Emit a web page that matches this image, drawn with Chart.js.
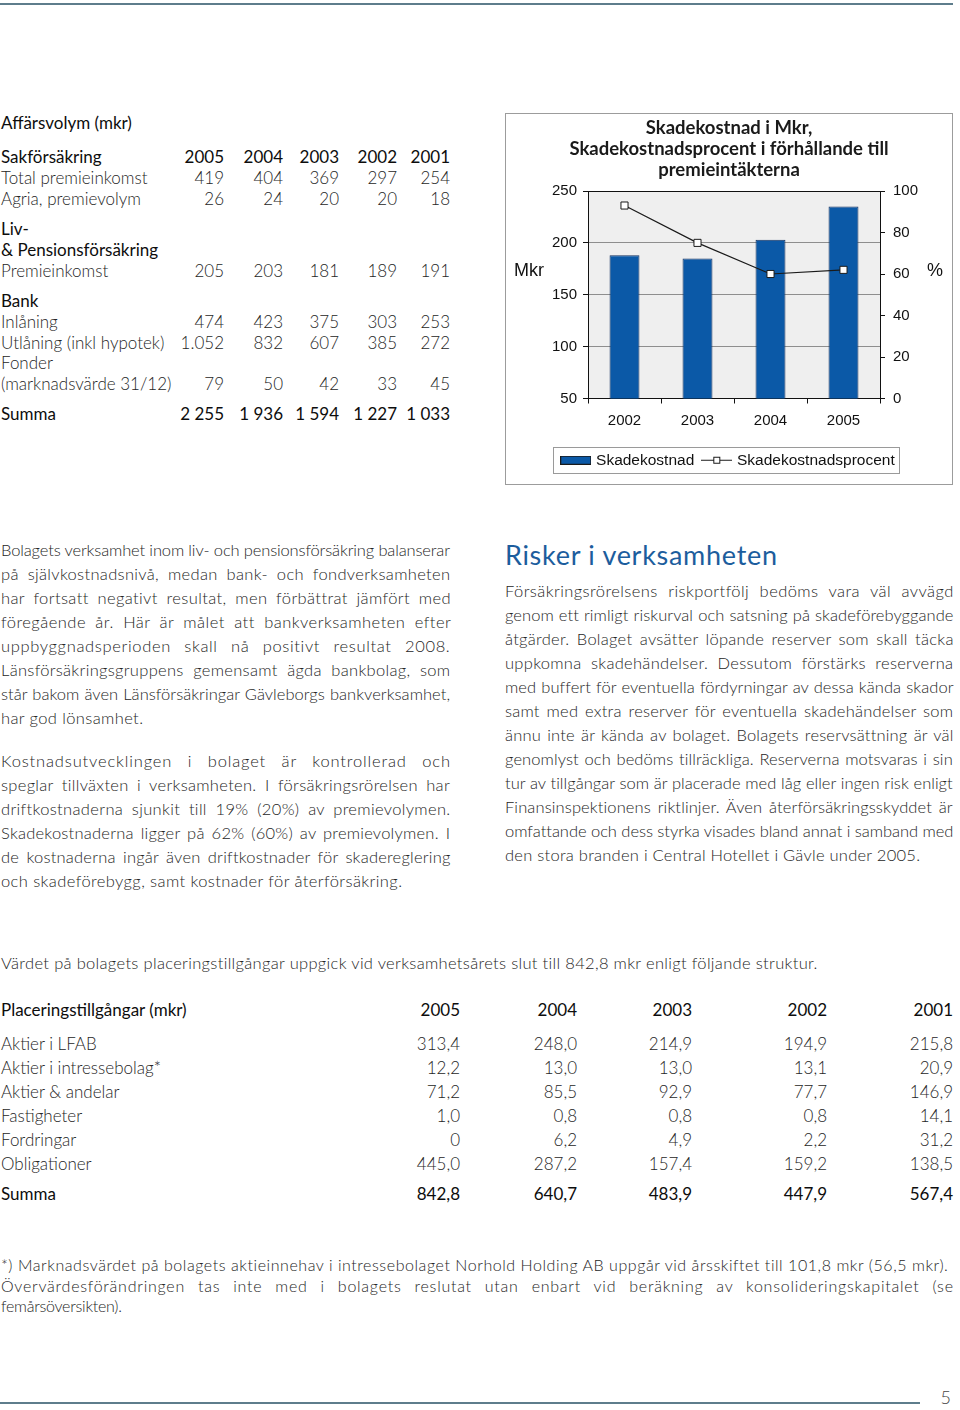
<!DOCTYPE html>
<html lang="sv">
<head>
<meta charset="utf-8">
<title>Skadekostnad i Mkr</title>
<script src="https://cdn.jsdelivr.net/npm/chart.js@4.4.0/dist/chart.umd.min.js"></script>
<style>
  html, body { margin:0; padding:0; background:#fff; }
  #page { position:relative; width:960px; height:1410px; overflow:hidden;
          font-family:Lato, "Open Sans", sans-serif; font-weight:300; color:#262626; }
  .c { position:absolute; white-space:nowrap; line-height:20px; font-size:17px; }
  .hd { color:#0d0d0d; font-weight:400; }
  .ln { position:absolute; white-space:nowrap; font-size:16.5px; line-height:24px; }
  .rule { position:absolute; height:2px; background:#5e7d8c; }
  #chartBox { position:absolute; left:505px; top:113px; width:448px; height:372px;
              border:1px solid #9c9c9c; box-sizing:border-box; }
  #chartBox canvas { display:block; }
  #risk { position:absolute; font-size:27px; line-height:32px; color:#1c5d9d; font-weight:400; white-space:nowrap; }
</style>
</head>
<body>
<div id="page">
  <div class="rule" style="left:0; top:3px; width:953px;"></div>
  <div class="rule" style="left:0; top:1402px; width:920px;"></div>
  <div class="c" style="right:9px; top:1387px; font-size:18px; color:#444;">5</div>

  <div id="chartBox"><canvas id="chart" width="446" height="370"></canvas></div>
  <div id="risk" data-w="272" style="left:505px; top:539px;">Risker i verksamheten</div>
</div>

<script>
// Chart data
const years = ['2002', '2003', '2004', '2005'];
const skadekostnad = [188, 185, 203, 235];        // Mkr
const skadeprocent = [93, 75, 60, 62];            // %
const mkrMin = 50, mkrMax = 250, mkrStep = 50;
const pctMin = 0, pctMax = 100, pctStep = 20;

const page = document.getElementById('page');

// place a text cell; align 'r' => x is the right edge
function cell(text, x, cy, cls, align){
  let d = document.createElement('div');
  d.className = 'c ' + (cls || '');
  d.textContent = text;
  d.style.top = (cy - 10) + 'px';
  if(align === 'r') d.style.right = (960 - x) + 'px';
  else d.style.left = x + 'px';
  page.appendChild(d);
  return d;
}

// Affärsvolym table
const t1Cols = [224, 283, 339, 397, 450];
const t1Rows = [
  ['Affärsvolym (mkr)', null, 123, 'hd'],
  ['Sakförsäkring', ['2005','2004','2003','2002','2001'], 157, 'hd'],
  ['Total premieinkomst', ['419','404','369','297','254'], 178, ''],
  ['Agria, premievolym', ['26','24','20','20','18'], 199, ''],
  ['Liv-', null, 229, 'hd'],
  ['& Pensionsförsäkring', null, 250, 'hd'],
  ['Premieinkomst', ['205','203','181','189','191'], 271, ''],
  ['Bank', null, 301, 'hd'],
  ['Inlåning', ['474','423','375','303','253'], 322, ''],
  ['Utlåning (inkl hypotek)', ['1.052','832','607','385','272'], 343, ''],
  ['Fonder', null, 363, ''],
  ['(marknadsvärde 31/12)', ['79','50','42','33','45'], 384, ''],
  ['Summa', ['2 255','1 936','1 594','1 227','1 033'], 414, 'hd']
];
t1Rows.forEach(r => {
  cell(r[0], 1, r[2], r[3]);
  if(r[1]) r[1].forEach((v, i) => cell(v, t1Cols[i], r[2], r[3], 'r'));
});

// Placeringstillgångar table
const t2Cols = [460, 577, 692, 827, 953];
const t2Rows = [
  ['Placeringstillgångar (mkr)', ['2005','2004','2003','2002','2001'], 1010, 'hd'],
  ['Aktier i LFAB', ['313,4','248,0','214,9','194,9','215,8'], 1044, ''],
  ['Aktier i intressebolag*', ['12,2','13,0','13,0','13,1','20,9'], 1068, ''],
  ['Aktier & andelar', ['71,2','85,5','92,9','77,7','146,9'], 1092, ''],
  ['Fastigheter', ['1,0','0,8','0,8','0,8','14,1'], 1116, ''],
  ['Fordringar', ['0','6,2','4,9','2,2','31,2'], 1140, ''],
  ['Obligationer', ['445,0','287,2','157,4','159,2','138,5'], 1164, ''],
  ['Summa', ['842,8','640,7','483,9','447,9','567,4'], 1194, 'hd']
];
t2Rows.forEach(r => {
  cell(r[0], 1, r[2], r[3]);
  r[1].forEach((v, i) => cell(v, t2Cols[i], r[2], r[3], 'r'));
});

// one line of running text, fitted later to width w
function line(text, x, cy, w, j, size){
  let d = document.createElement('div');
  d.className = 'ln';
  d.textContent = text;
  d.style.left = x + 'px';
  d.style.top = (cy - 12) + 'px';
  if(size) d.style.fontSize = size + 'px';
  d.dataset.w = w;
  if(j) d.dataset.j = '1';
  page.appendChild(d);
}

const para1 = [
  'Bolagets verksamhet inom liv- och pensionsförsäkring balanserar',
  'på självkostnadsnivå, medan bank- och fondverksamheten',
  'har fortsatt negativt resultat, men förbättrat jämfört med',
  'föregående år. Här är målet att bankverksamheten efter',
  'uppbyggnadsperioden skall nå positivt resultat 2008.',
  'Länsförsäkringsgruppens gemensamt ägda bankbolag, som',
  'står bakom även Länsförsäkringar Gävleborgs bankverksamhet,',
  'har god lönsamhet.'
];
const para2 = [
  'Kostnadsutvecklingen i bolaget är kontrollerad och',
  'speglar tillväxten i verksamheten. I försäkringsrörelsen har',
  'driftkostnaderna sjunkit till 19% (20%) av premievolymen.',
  'Skadekostnaderna ligger på 62% (60%) av premievolymen. I',
  'de kostnaderna ingår även driftkostnader för skadereglering',
  'och skadeförebygg, samt kostnader för återförsäkring.'
];
const para3 = [
  'Försäkringsrörelsens riskportfölj bedöms vara väl avvägd',
  'genom ett rimligt riskurval och satsning på skadeförebyggande',
  'åtgärder. Bolaget avsätter löpande reserver som skall täcka',
  'uppkomna skadehändelser. Dessutom förstärks reserverna',
  'med buffert för eventuella fördyrningar av dessa kända skador',
  'samt med extra reserver för eventuella skadehändelser som',
  'ännu inte är kända av bolaget. Bolagets reservsättning är väl',
  'genomlyst och bedöms tillräckliga. Reserverna motsvaras i sin',
  'tur av tillgångar som är placerade med låg eller ingen risk enligt',
  'Finansinspektionens riktlinjer. Även återförsäkringsskyddet är',
  'omfattande och dess styrka visades bland annat i samband med',
  'den stora branden i Central Hotellet i Gävle under 2005.'
];
para1.forEach((t, i) => line(t, 1, 550 + i * 24, i < 7 ? 449 : 142, i < 7));
para2.forEach((t, i) => line(t, 1, 761 + i * 24, i < 5 ? 449 : 401, i < 5));
para3.forEach((t, i) => line(t, 505, 591 + i * 24, i < 11 ? 448 : 415, i < 11));

line('Värdet på bolagets placeringstillgångar uppgick vid verksamhetsårets slut till 842,8 mkr enligt följande struktur.', 1, 963, 817, false, 16.5);
line('*) Marknadsvärdet på bolagets aktieinnehav i intressebolaget Norhold Holding AB uppgår vid årsskiftet till 101,8 mkr (56,5 mkr).', 1, 1265, 947, false, 16);
line('Övervärdesförändringen tas inte med i bolagets reslutat utan enbart vid beräkning av konsolideringskapitalet (se', 1, 1286, 952, true, 16);
line('femårsöversikten).', 1, 1306, 121, false, 16);

// stretch / squeeze each line to the measured width
function fitLines(){
  document.querySelectorAll('[data-w]').forEach(el => {
    let w = +el.dataset.w;
    let nat = el.getBoundingClientRect().width;
    let diff = w - nat;
    let txt = el.textContent;
    let n = txt.length - 1;
    let spaces = (txt.match(/ /g) || []).length;
    if(el.dataset.j && diff > 0 && spaces){
      // part as letter spacing, the rest between words
      let ls = Math.min(diff * 0.45 / n, 0.9);
      el.style.letterSpacing = ls + 'px';
      el.style.wordSpacing = ((diff - ls * n) / spaces) + 'px';
    } else {
      el.style.letterSpacing = (diff / n) + 'px';
    }
  });
}
fitLines();

// legend icons
function makeIcon(kind){
  let c = document.createElement('canvas');
  c.width = 31; c.height = 9;
  let g = c.getContext('2d');
  g.strokeStyle = '#1a1a1a';
  g.lineWidth = 1;
  if(kind === 'bar'){
    g.fillStyle = '#0b59a7';
    g.fillRect(0.5, 0.5, 30, 8);
    g.strokeRect(0.5, 0.5, 30, 8);
  } else {
    g.beginPath(); g.moveTo(0, 4.5); g.lineTo(31, 4.5); g.stroke();
    g.fillStyle = '#fff';
    g.fillRect(12.5, 1.5, 6, 6);
    g.strokeRect(12.5, 1.5, 6, 6);
  }
  return c;
}
const legendIcons = [makeIcon('bar'), makeIcon('line')];

// plot background, frame, side labels, legend frame
const framePlugin = {
  id: 'framePlugin',
  beforeDraw(chart){
    const {ctx, chartArea: a} = chart;
    ctx.save();
    ctx.fillStyle = '#efefef';
    ctx.fillRect(a.left, a.top, a.width, a.height);
    ctx.restore();
  },
  afterDraw(chart){
    const {ctx, chartArea: a} = chart;
    ctx.save();
    ctx.strokeStyle = '#111';
    ctx.lineWidth = 1;
    ctx.beginPath();
    ctx.moveTo(a.left, a.top + 0.5);
    ctx.lineTo(a.right, a.top + 0.5);
    ctx.stroke();

    ctx.fillStyle = '#111';
    ctx.font = '18px "Liberation Sans", Arial, sans-serif';
    ctx.textBaseline = 'middle';
    let ly = a.top + a.height * 0.385;
    ctx.textAlign = 'left';
    ctx.fillText('Mkr', 8, ly);
    ctx.fillText('%', a.right + 47, ly);

    // legend border
    const boxes = chart.legend.legendHitBoxes;
    if(boxes && boxes.length){
      let l = Math.min(...boxes.map(b => b.left)) - 10;
      let r = Math.max(...boxes.map(b => b.left + b.width)) + 5;
      let cy = boxes[0].top + boxes[0].height / 2;
      ctx.strokeStyle = '#9a9a9a';
      ctx.strokeRect(Math.round(l) + 0.5, Math.round(cy - 13) + 0.5, Math.round(r - l), 26);
    }
    ctx.restore();
  }
};

Chart.defaults.font.family = '"Liberation Sans", Arial, sans-serif';
Chart.defaults.font.size = 15;
Chart.defaults.color = '#111';

new Chart(document.getElementById('chart'), {
  type: 'bar',
  data: {
    labels: years,
    datasets: [{
      type: 'bar',
      label: 'Skadekostnad',
      data: skadekostnad,
      yAxisID: 'y',
      backgroundColor: '#0b59a7',
      borderColor: '#14315f',
      borderWidth: 1,
      categoryPercentage: 1,
      barPercentage: 0.41,
      order: 2
    }, {
      type: 'line',
      label: 'Skadekostnadsprocent',
      data: skadeprocent,
      yAxisID: 'y1',
      borderColor: '#1a1a1a',
      borderWidth: 1.2,
      pointStyle: 'rect',
      pointRadius: 5,
      pointBackgroundColor: '#fff',
      pointBorderColor: '#1a1a1a',
      pointBorderWidth: 1,
      tension: 0,
      order: 1
    }]
  },
  options: {
    responsive: false,
    animation: false,
    layout: {padding: {left: 0, right: 0, top: 0, bottom: 6}},
    plugins: {
      title: {
        display: true,
        text: ['Skadekostnad i Mkr,', 'Skadekostnadsprocent i förhållande till', 'premieintäkterna'],
        font: {family: 'Lato, "Open Sans", sans-serif', size: 18.5, weight: 'bold', lineHeight: 21 / 18.5},
        color: '#1a1a1a',
        padding: {top: 3.5, bottom: 10.5}
      },
      legend: {
        position: 'bottom',
        labels: {
          usePointStyle: true,
          pointStyleWidth: 25,
          boxHeight: 8,
          padding: 10,
          font: {size: 15.5},
          color: '#111',
          generateLabels(chart){
            let items = Chart.defaults.plugins.legend.labels.generateLabels(chart);
            items.sort((a, b) => a.datasetIndex - b.datasetIndex);
            items.forEach(it => { it.pointStyle = legendIcons[it.datasetIndex]; });
            return items;
          }
        }
      },
      tooltip: {enabled: false}
    },
    scales: {
      x: {
        grid: {display: true, drawOnChartArea: false, drawTicks: true, tickLength: 5, color: '#111', offset: true},
        border: {color: '#111'},
        ticks: {padding: 8, color: '#111'},
        afterFit(s){ s.height = 44; }
      },
      y: {
        position: 'left',
        min: mkrMin, max: mkrMax,
        ticks: {stepSize: mkrStep, padding: 6, color: '#111'},
        grid: {color: '#8e8e8e', tickColor: '#111', tickLength: 5},
        border: {color: '#111'},
        afterFit(s){ s.width = 82; }
      },
      y1: {
        position: 'right',
        min: pctMin, max: pctMax,
        ticks: {stepSize: pctStep, padding: 8, color: '#111'},
        grid: {drawOnChartArea: false, tickColor: '#111', tickLength: 5},
        border: {color: '#111'},
        afterFit(s){ s.width = 72; }
      }
    }
  },
  plugins: [framePlugin]
});
</script>
</body>
</html>
